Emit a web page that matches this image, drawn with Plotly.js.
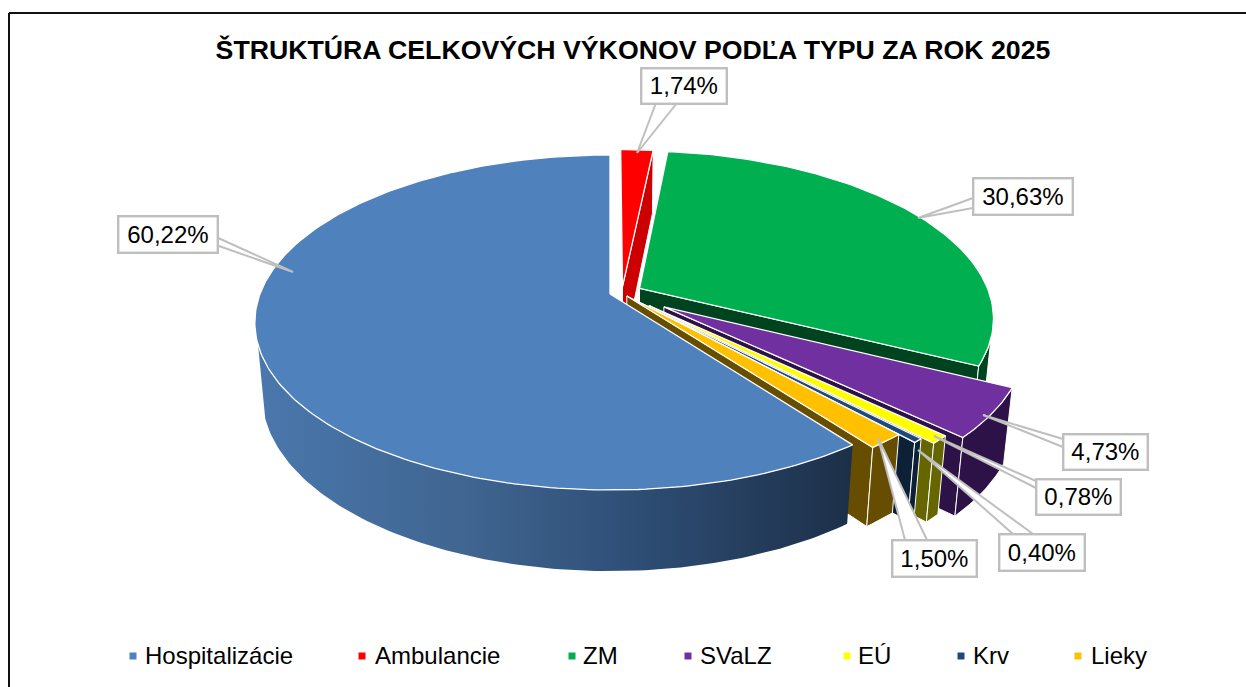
<!DOCTYPE html>
<html>
<head>
<meta charset="utf-8">
<script src="https://cdn.plot.ly/plotly-3.0.1.min.js"></script>
<style>html,body{margin:0;padding:0;background:#fff;overflow:hidden}#c{width:1246px;height:687px}</style>
</head>
<body>
<div id="c"></div>
<script>
// ---- data ----
const categories = ['Hospitalizácie','Ambulancie','ZM','SVaLZ','EÚ','Krv','Lieky'];
const shares = [60.22,1.74,30.63,4.73,0.78,0.40,1.50];
const titleText = 'ŠTRUKTÚRA CELKOVÝCH VÝKONOV PODĽA TYPU ZA ROK 2025';

// ---- styles ----
const topColors  = ['#4f81bd','#ff0000','#00b050','#7030a0','#ffff00','#1f497d','#ffc000'];
const wallColors = ['#1f3552','#cc0000','#00431f','#2c1246','#666600','#0c2036','#664d00'];
const FONT = '"Liberation Sans", Arial, sans-serif';

// ---- 3D pie view: slice explosion on the disc, and perspective projection ----
const explodeU = [0,0.036,0.085,0.152,0.110,0.082,0.048];
const explodeV = [0,-0.045,-0.035,0.078,0.070,0.049,0.012];
const view = {x0:610,y0:294,R:350,S:162.7,k:0.17,m:0.02,n:72.8};
const silhouetteRight = 107.3, silhouetteLeft = 252.7; // where the rim turns away from the viewer
function project(u,v,d){
  const w = 1 - view.k*v + view.m*d;
  return [view.x0 + view.R*u/w, view.y0 + (view.S*v + view.n*d)/w];
}
function polyTrace(points,color,lineW,extra){
  return Object.assign({
    type:'scatter',mode:'lines',x:points.map(p=>p[0]),y:points.map(p=>p[1]),
    fill:'toself',fillcolor:color,line:{color:'#ffffff',width:lineW},
    hoverinfo:'skip',showlegend:false
  },extra||{});
}
const total = shares.reduce((a,b)=>a+b,0);
const startDeg = 360*(1-shares[0]/total);
const slices = [];
let acc = startDeg;
shares.forEach((s,i)=>{
  if(acc>=360) acc-=360;
  const a1 = acc, a2 = acc + 360*s/total;
  acc = a2;
  const arc = (from,to,d)=>{
    const out=[], n=Math.max(2,Math.ceil(to-from));
    for(let j=0;j<=n;j++){
      const a=(from+(to-from)*j/n)*Math.PI/180;
      out.push(project(explodeU[i]+Math.sin(a),explodeV[i]-Math.cos(a),d));
    }
    return out;
  };
  // visible part of the rim
  const r1=Math.max(a1,silhouetteRight), r2=Math.min(a2,silhouetteLeft);
  slices.push({i,apexT:project(explodeU[i],explodeV[i],0),apexB:project(explodeU[i],explodeV[i],1),
    top:arc(a1,a2,0),bot:arc(a1,a2,1),
    rim:r2>r1?arc(r1,r2,0).concat(arc(r1,r2,1).reverse()):null});
});

const traces = [];
// painter's order: far slices first, the big blue slice last
[1,2,3,4,5,6,0].forEach(i=>{
  const s = slices[i];
  if(i===0){
    traces.push(polyTrace(s.rim,wallColors[0],0,{
      fillgradient:{type:'horizontal',colorscale:[[0,'#4a77ad'],[0.35,'#3f6590'],[0.62,'#2f4f77'],[1,'#1c2f48']]}
    }));
  } else {
    const last=s.top[s.top.length-1], lastB=s.bot[s.bot.length-1];
    traces.push(polyTrace([s.apexT,last,lastB,s.apexB,s.apexT],wallColors[i],1));
    if(s.rim) traces.push(polyTrace(s.rim.concat([s.rim[0]]),wallColors[i],1));
  }
  traces.push(polyTrace([s.apexT].concat(s.top).concat([s.apexT]),topColors[i],1.3));
});

// ---- data-label callouts (page layout, in the chart's pixel-scaled axes) ----
const callouts = [
  {box:[118,216,217,252],base:[[216,237],[216,245]],tip:[293,272]},
  {box:[641,68,726,103],base:[[656,103],[677,103]],tip:[637,153]},
  {box:[973,178,1072,214],base:[[973,198],[973,208]],tip:[918,218]},
  {box:[1063,434,1147,469],base:[[1063,439],[1063,447]],tip:[983,415]},
  {box:[1036,479,1120,514],base:[[1036,481],[1036,488]],tip:[934,436]},
  {box:[999,534,1084,570],base:[[1013,534],[1033,534]],tip:[918,450]},
  {box:[892,540,976,576],base:[[905,540],[927,540]],tip:[878,438]}
];
const annotations = [];
callouts.forEach((c,i)=>{
  traces.push({type:'scatter',mode:'lines',
    x:[c.base[0][0],c.tip[0],c.base[1][0]],y:[c.base[0][1],c.tip[1],c.base[1][1]],
    fill:'toself',fillcolor:'#ffffff',line:{color:'#bfbfbf',width:2},hoverinfo:'skip',showlegend:false});
  const W=c.box[2]-c.box[0], H=c.box[3]-c.box[1];
  annotations.push({
    xref:'x',yref:'y',x:(c.box[0]+c.box[2])/2,y:(c.box[1]+c.box[3])/2,
    text:shares[i].toFixed(2).replace('.',',')+'%',showarrow:false,
    font:{family:FONT,size:24,color:'#000000'},
    bgcolor:'#ffffff',bordercolor:'#bfbfbf',borderwidth:2.4,borderpad:0,
    width:W-2,height:H-2,align:'center',valign:'middle',xanchor:'center',yanchor:'middle'
  });
});

// ---- legend row ----
const legendX = [133,362,572,688,847,961,1078];
const legendTextX = [145,375,583,700,858,973,1091];
const legendY = 656, legendTextY = 658;
categories.forEach((c,i)=>{
  traces.push({type:'scatter',mode:'markers',x:[legendX[i]],y:[legendY],name:c,
    marker:{symbol:'square',size:7,color:topColors[i]},hoverinfo:'name',showlegend:false});
  traces.push({type:'scatter',mode:'text',x:[legendTextX[i]],y:[legendTextY],
    text:[c],textposition:'middle right',
    textfont:{family:FONT,size:24,color:'#000000'},hoverinfo:'skip',showlegend:false});
});

const layout = {
  width:1246,height:687,margin:{l:0,r:0,t:0,b:0},
  paper_bgcolor:'#ffffff',plot_bgcolor:'#ffffff',showlegend:false,
  title:{text:'<b>'+titleText+'</b>',x:633/1246,xref:'paper',xanchor:'center',y:1-50/687,yref:'paper',yanchor:'middle',
    font:{family:FONT,size:26.7,color:'#000000'}},
  xaxis:{range:[0,1246],visible:false,fixedrange:true},
  yaxis:{range:[687,0],visible:false,fixedrange:true},
  shapes:[
    {type:'line',xref:'x',yref:'y',x0:9,x1:1246,y0:13,y1:13,line:{color:'#111111',width:2}},
    {type:'line',xref:'x',yref:'y',x0:9,x1:9,y0:13,y1:687,line:{color:'#111111',width:2}}
  ],
  annotations
};
Plotly.newPlot('c',traces,layout,{displayModeBar:false,staticPlot:true});
</script>
</body>
</html>
